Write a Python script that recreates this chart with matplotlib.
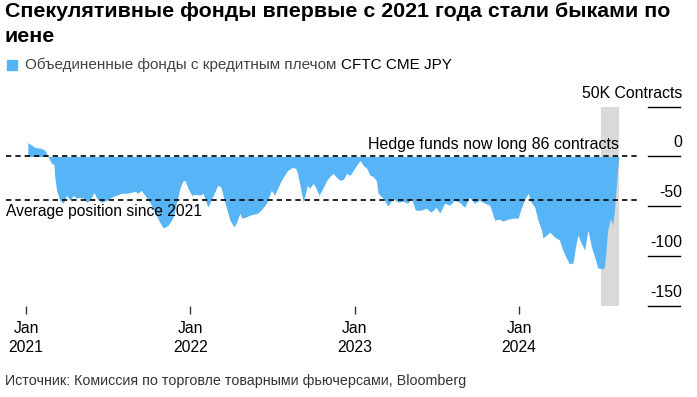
import matplotlib
matplotlib.use("Agg")
import matplotlib.pyplot as plt
import matplotlib.dates as mdates
import matplotlib.transforms as mtransforms
import numpy as np
import pandas as pd

plt.rcParams['font.family'] = ['Liberation Sans', 'DejaVu Sans']

# ---- data (thousand contracts, net position of leveraged funds, CFTC CME JPY) ----
dates = [
    "2021-01-05", "2021-01-21", "2021-02-05", "2021-02-12", "2021-02-19", "2021-02-27",
    "2021-03-04", "2021-03-06", "2021-03-10", "2021-03-17", "2021-03-25", "2021-04-01",
    "2021-04-09", "2021-04-16", "2021-04-23", "2021-05-01", "2021-05-08", "2021-05-16",
    "2021-05-23", "2021-06-01", "2021-06-07", "2021-06-18", "2021-06-29", "2021-07-10",
    "2021-07-21", "2021-08-01", "2021-08-12", "2021-08-23", "2021-08-31", "2021-09-07",
    "2021-09-14", "2021-09-22", "2021-10-03", "2021-10-14", "2021-10-25", "2021-11-02",
    "2021-11-13", "2021-11-24", "2021-12-01", "2021-12-09", "2021-12-15", "2021-12-20",
    "2021-12-27", "2022-01-04", "2022-01-13", "2022-01-22", "2022-01-29", "2022-02-02",
    "2022-02-09", "2022-02-18", "2022-02-25", "2022-03-03", "2022-03-10", "2022-03-19",
    "2022-03-30", "2022-04-08", "2022-04-14", "2022-04-21", "2022-04-25", "2022-05-04",
    "2022-05-13", "2022-05-22", "2022-05-31", "2022-06-09", "2022-06-19", "2022-06-30",
    "2022-07-07", "2022-07-22", "2022-08-05", "2022-08-16", "2022-08-23", "2022-08-27",
    "2022-09-02", "2022-09-09", "2022-09-18", "2022-09-23", "2022-10-01", "2022-10-07",
    "2022-10-14", "2022-10-20", "2022-10-31", "2022-11-07", "2022-11-14", "2022-11-22",
    "2022-11-29", "2022-12-07", "2022-12-14", "2022-12-22", "2022-12-29", "2023-01-05",
    "2023-01-13", "2023-01-20", "2023-01-28", "2023-02-04", "2023-02-11", "2023-02-18",
    "2023-02-22", "2023-03-05", "2023-03-16", "2023-03-27", "2023-04-07", "2023-04-18",
    "2023-04-29", "2023-05-07", "2023-05-16", "2023-05-29", "2023-06-09", "2023-06-20",
    "2023-07-01", "2023-07-09", "2023-07-20", "2023-07-31", "2023-08-11", "2023-08-22",
    "2023-09-02", "2023-09-13", "2023-09-24", "2023-10-05", "2023-10-17", "2023-10-28",
    "2023-11-08", "2023-11-19", "2023-11-26", "2023-12-07", "2023-12-19", "2023-12-30",
    "2024-01-06", "2024-01-13", "2024-01-21", "2024-01-28", "2024-02-05", "2024-02-12",
    "2024-02-20", "2024-02-23", "2024-03-02", "2024-03-09", "2024-03-20", "2024-03-31",
    "2024-04-07", "2024-04-15", "2024-04-22", "2024-04-30", "2024-05-07", "2024-05-11",
    "2024-05-18", "2024-05-26", "2024-06-02", "2024-06-10", "2024-06-17", "2024-06-24",
    "2024-07-05", "2024-07-09", "2024-07-16", "2024-07-22", "2024-07-27", "2024-07-31",
    "2024-08-04", "2024-08-08", "2024-08-10",
]
net_position = [
    14, 9, 8, 6, 0, -7,
    -8, -21, -34, -44, -47, -39,
    -44, -39, -42, -41, -42, -46,
    -44, -36, -42, -46, -44, -41,
    -39, -37, -37, -36, -35, -37,
    -34, -39, -46, -56, -66, -72,
    -69, -61, -47, -32, -25, -24,
    -32, -39, -38, -39, -37, -42,
    -51, -42, -35, -29, -31, -47,
    -64, -71, -66, -57, -62, -61,
    -59, -58, -57, -53, -47, -34,
    -39, -24, -14, -11, -12, -17,
    -30, -46, -29, -32, -27, -32,
    -39, -34, -24, -20, -17, -21,
    -24, -23, -17, -19, -14, -9,
    -4, -9, -12, -19, -20, -24,
    -37, -42, -50, -42, -46, -45,
    -47, -42, -54, -54, -52, -56,
    -51, -57, -47, -49, -44, -46,
    -51, -41, -47, -44, -47, -49,
    -64, -63, -65, -63, -62, -62,
    -52, -44, -37, -46, -51, -64,
    -74, -82, -79, -76, -81, -84,
    -94, -102, -108, -107, -87, -79,
    -87, -94, -74, -91, -101, -112,
    -113, -111, -74, -62, -69, -54,
    -31, -7, 0.086,
]
average_position = -44
latest_position = 0.086
shade_start, shade_end = "2024-07-01", "2024-08-10"

y_ticks = [50, 0, -50, -100, -150]
y_tick_labels = ["50K Contracts", "0", "-50", "-100", "-150"]
x_ticks = ["2021-01-01", "2022-01-01", "2023-01-01", "2024-01-01"]
x_tick_labels = ["Jan\n2021", "Jan\n2022", "Jan\n2023", "Jan\n2024"]

title = "Спекулятивные фонды впервые с 2021 года стали быками по\nиене"
legend_ru = "Объединенные фонды с кредитным плечом "
legend_en = "CFTC CME JPY"
source = "Источник: Комиссия по торговле товарными фьючерсами, Bloomberg"
note_top = "Hedge funds now long 86 contracts"
note_avg = "Average position since 2021"

# ---- figure ----
W, H = 697, 397
fig = plt.figure(figsize=(W / 100, H / 100), dpi=100)
ax_left, ax_right = 6, 680
ax_top, ax_bottom = 106.7, 305.7
ax = fig.add_axes([ax_left / W, 1 - ax_bottom / H, (ax_right - ax_left) / W, (ax_bottom - ax_top) / H])

blue = "#56b4f7"
x = mdates.date2num(pd.to_datetime(dates))
ax.fill_between(x, net_position, 0, color=blue, lw=0, zorder=3)

# x limits: Jan 2021 at px 26, Jan 2024 at px 519
j21 = mdates.date2num(pd.Timestamp("2021-01-01"))
j24 = mdates.date2num(pd.Timestamp("2024-01-01"))
ppd = (519 - 26) / (j24 - j21)
ax.set_xlim(j21 - (26 - ax_left) / ppd, j24 + (ax_right - 519) / ppd)
ax.set_ylim(-150, 50)

ax.axvspan(mdates.date2num(pd.Timestamp(shade_start)), mdates.date2num(pd.Timestamp(shade_end)),
           color="#d9d9d9", lw=0, zorder=1)

dash_end = (638 - ax_left) / (ax_right - ax_left)
for yv in (latest_position, average_position):
    ax.axhline(yv, xmin=0, xmax=dash_end, color="black", lw=1.2, ls=(0, (3.2, 2.4)), zorder=4)

# right-side tick lines and labels
tick_start = (648 - ax_left) / (ax_right - ax_left)
offset = mtransforms.offset_copy(ax.get_yaxis_transform(), fig=fig, x=0, y=6, units="dots")
for yv, lab in zip(y_ticks, y_tick_labels):
    ax.axhline(yv, xmin=tick_start, xmax=1, color="black", lw=1.0, zorder=4, clip_on=False)
    ax.text(1.003, yv, lab, transform=offset, ha="right", va="bottom", fontsize=11.4, color="black")

ax.set_yticks([])
ax.set_xticks(mdates.date2num(pd.to_datetime(x_ticks)))
ax.set_xticklabels(x_tick_labels, fontsize=11.3, linespacing=1.3)
ax.tick_params(axis="x", length=6, width=1, color="#333333", pad=5)
for s in ax.spines.values():
    s.set_visible(False)

ax.text(619, latest_position + 4, note_top, ha="right", va="bottom", fontsize=11.5,
        transform=mtransforms.blended_transform_factory(
            mtransforms.IdentityTransform(), ax.transData), zorder=5)
ax.text(ax_left, average_position - 4, note_avg, ha="left", va="top", fontsize=11.25,
        transform=mtransforms.blended_transform_factory(
            mtransforms.IdentityTransform(), ax.transData), zorder=5)

# title / legend / source
fig.text(5 / W, 1 - 2 / H, title, ha="left", va="top", fontsize=15.4, fontweight="bold",
         linespacing=1.42)
fig.patches.append(plt.Rectangle((7 / W, 1 - 70 / H), 10 / W, 10 / H, color=blue,
                                 transform=fig.transFigure, figure=fig))
t1 = fig.text(25 / W, 1 - 65 / H, legend_ru, ha="left", va="center", fontsize=11, color="#444444")
fig.canvas.draw()
bb = t1.get_window_extent()
fig.text(bb.x1 / W, 1 - 65 / H, legend_en, ha="left", va="center", fontsize=11, color="black")
fig.text(5 / W, 1 - 381 / H, source, ha="left", va="center", fontsize=10.3, color="#333333")

fig.savefig("out.png", dpi=100)
